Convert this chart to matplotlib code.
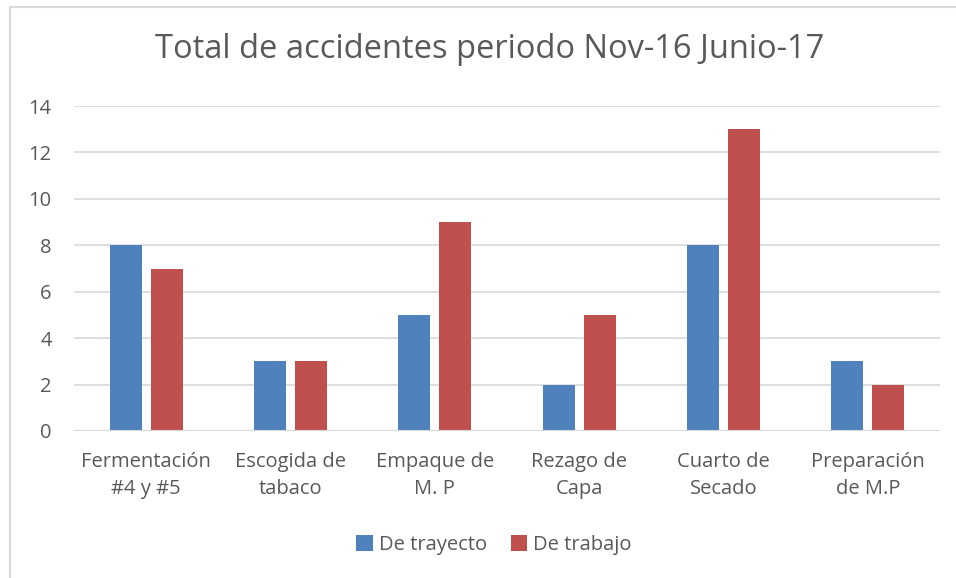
import matplotlib
matplotlib.use("Agg")
import matplotlib.pyplot as plt
import numpy as np
from matplotlib.lines import Line2D

categories = ["Fermentación\n#4 y #5", "Escogida de\ntabaco", "Empaque de\nM. P", "Rezago de\nCapa", "Cuarto de\nSecado", "Preparación\nde M.P"]
de_trayecto = [8, 3, 5, 2, 8, 3]
de_trabajo = [7, 3, 9, 5, 13, 2]
series_names = ["De trayecto", "De trabajo"]
yticks = [0, 2, 4, 6, 8, 10, 12, 14]

plt.rcParams['font.family'] = ['Open Sans', 'DejaVu Sans']
text_color = "#595959"
blue = "#4F81BD"
red = "#C0504D"

fig = plt.figure(figsize=(9.56, 5.78), dpi=100)
ax = fig.add_axes([74/956, 1-431/578, (940-74)/956, (431-106)/578])

x = np.arange(len(categories))
w = 0.22
off = 0.142
ax.bar(x - off, de_trayecto, w, color=blue, label=series_names[0], zorder=3)
ax.bar(x + off, de_trabajo, w, color=red, label=series_names[1], zorder=3)

ax.set_xlim(-0.5, len(categories) - 0.5)
ax.set_ylim(0, 14)
ax.set_yticks(yticks)
ax.set_yticklabels([str(t) for t in yticks])
ax.set_xticks(x)
ax.set_xticklabels(categories, linespacing=1.5)
ax.tick_params(axis='both', length=0, labelsize=14.5, colors=text_color)
ax.tick_params(axis='y', pad=16)
ax.tick_params(axis='x', pad=15)
ax.grid(axis='y', color="#D9D9D9", linewidth=1.2, zorder=0)
for s in ax.spines.values():
    s.set_visible(False)
ax.axhline(0, color="#D9D9D9", linewidth=1.5, zorder=4)

fig.text(490/956, 1-50/578, "Total de accidentes periodo Nov-16 Junio-17", ha='center', va='center',
         fontsize=23.5, color=text_color)

leg = fig.legend(loc='center', bbox_to_anchor=(494/956, 1-545/578), ncol=2, frameon=False,
                 fontsize=14.5, handlelength=0.8, handleheight=0.8, handletextpad=0.3, columnspacing=1.2)
for t in leg.get_texts():
    t.set_color(text_color)

# outer chart border (left and top visible)
fig.add_artist(Line2D([10/956, 10/956], [0, 1-7/578], transform=fig.transFigure, color="#D9D9D9", lw=1.5))
fig.add_artist(Line2D([10/956, 1], [1-7/578, 1-7/578], transform=fig.transFigure, color="#D9D9D9", lw=1.5))

fig.savefig("out.png", dpi=100)
